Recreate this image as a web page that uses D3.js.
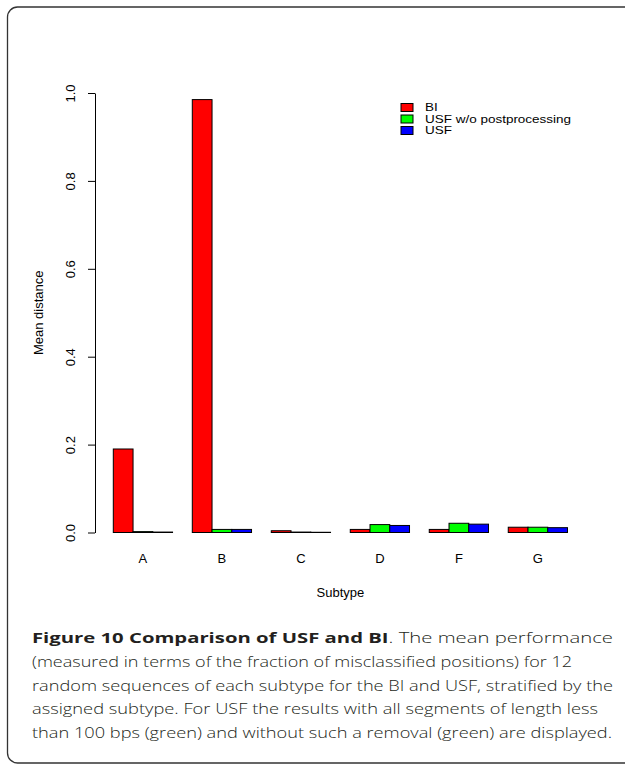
<!DOCTYPE html>
<html>
<head>
<meta charset="utf-8">
<script src="https://cdn.jsdelivr.net/npm/d3@7"></script>
<style>
  body { margin: 0; background: #fff; }
  svg { display: block; }
</style>
</head>
<body>
<svg id="chart" width="625" height="769"></svg>
<script>
// data
var subtypes = ["A", "B", "C", "D", "F", "G"];
var seriesNames = ["BI", "USF w/o postprocessing", "USF"];
var seriesColors = ["#ff0000", "#00ff00", "#0000ff"];
var biValues = [0.190, 0.985, 0.004, 0.007, 0.007, 0.012];
var usfRawValues = [0.002, 0.007, 0.001, 0.018, 0.021, 0.012];
var usfValues = [0.001, 0.007, 0.0005, 0.016, 0.019, 0.011];
var yTicks = [0, 0.2, 0.4, 0.6, 0.8, 1.0];
var captionBold = "Figure 10 Comparison of USF and BI";
var captionLines = [
  ". The mean performance",
  "(measured in terms of the fraction of misclassified positions) for 12",
  "random sequences of each subtype for the BI and USF, stratified by the",
  "assigned subtype. For USF the results with all segments of length less",
  "than 100 bps (green) and without such a removal (green) are displayed."
];

var svg = d3.select("#chart");
var font = "'Liberation Sans', Arial, Helvetica, sans-serif";

// frame round the figure
svg.append("rect")
  .attr("x", 7.5).attr("y", 7)
  .attr("width", 640).attr("height", 756)
  .attr("rx", 10).attr("ry", 10)
  .attr("fill", "none")
  .attr("stroke", "#333")
  .attr("stroke-width", 1.3);

var rows = subtypes.map(function (s, i) {
  return { key: s, values: [biValues[i], usfRawValues[i], usfValues[i]] };
});

var x = d3.scaleBand()
  .domain(subtypes)
  .range([113.3, 567.5])
  .paddingInner(0.25)
  .paddingOuter(0);

var xs = d3.scaleBand()
  .domain(d3.range(seriesNames.length))
  .range([0, x.bandwidth()]);

var y = d3.scaleLinear()
  .domain([0, 1])
  .range([532.5, 93]);

// bars
var groups = svg.append("g").selectAll("g")
  .data(rows)
  .enter().append("g")
  .attr("transform", function (d) { return "translate(" + x(d.key) + ",0)"; });

groups.selectAll("rect")
  .data(function (d) { return d.values; })
  .enter().append("rect")
  .attr("x", function (d, i) { return xs(i); })
  .attr("width", xs.bandwidth())
  .attr("y", function (d) { return y(d); })
  .attr("height", function (d) { return y(0) - y(d); })
  .attr("fill", function (d, i) { return seriesColors[i]; })
  .attr("stroke", "#000")
  .attr("stroke-width", 1);

// y axis, R style
var yAxis = svg.append("g")
  .attr("transform", "translate(95,0)")
  .call(d3.axisLeft(y).tickValues(yTicks).tickFormat(d3.format(".1f")).tickSize(7).tickSizeOuter(0));
yAxis.select(".domain").attr("stroke", "#000").attr("stroke-width", 1);
yAxis.selectAll(".tick line").attr("stroke", "#000");
yAxis.selectAll(".tick text")
  .attr("x", 0).attr("dy", 0)
  .attr("transform", "translate(-20,0) rotate(-90)")
  .attr("text-anchor", "middle")
  .attr("font-family", font)
  .attr("font-size", 13)
  .attr("fill", "#000");

// category labels
svg.append("g").selectAll("text")
  .data(subtypes)
  .enter().append("text")
  .attr("x", function (d) { return x(d) + x.bandwidth() / 2; })
  .attr("y", 563)
  .attr("text-anchor", "middle")
  .attr("font-family", font)
  .attr("font-size", 13)
  .text(function (d) { return d; });

// axis titles
svg.append("text")
  .attr("x", (x.range()[0] + x.range()[1]) / 2)
  .attr("y", 597)
  .attr("text-anchor", "middle")
  .attr("font-family", font)
  .attr("font-size", 13)
  .text("Subtype");

svg.append("text")
  .attr("transform", "translate(38," + y(0.5) + ") rotate(-90)")
  .attr("text-anchor", "middle")
  .attr("dy", "0.35em")
  .attr("font-family", font)
  .attr("font-size", 13)
  .text("Mean distance");

// legend (R draws it wide and tight, so stretch the text sideways)
var legend = svg.append("g").selectAll("g")
  .data(seriesNames)
  .enter().append("g")
  .attr("transform", function (d, i) { return "translate(401," + (107.5 + i * 11.5) + ")"; });
legend.append("rect")
  .attr("x", 0).attr("y", -4)
  .attr("width", 12).attr("height", 8)
  .attr("fill", function (d, i) { return seriesColors[i]; })
  .attr("stroke", "#000")
  .attr("stroke-width", 1);
legend.append("text")
  .attr("transform", "translate(24,0) scale(1.35,1)")
  .attr("dy", "0.35em")
  .attr("font-family", font)
  .attr("font-size", 10)
  .text(function (d) { return d; });

// caption
var capFont = "'Open Sans', 'Noto Sans', sans-serif";
var capEnds = [613, 572, 613, 598, 612];
var cap = svg.append("g")
  .attr("font-family", capFont)
  .attr("font-size", 15)
  .attr("fill", "#231f20");
captionLines.forEach(function (line, i) {
  var t = cap.append("text")
    .attr("x", 32)
    .attr("y", 643 + i * 23.8)
    .attr("textLength", capEnds[i] - 32)
    .attr("lengthAdjust", "spacingAndGlyphs");
  if (i === 0) {
    t.append("tspan").attr("font-weight", "bold").text(captionBold);
  }
  t.append("tspan").attr("font-weight", "300").text(line);
});
</script>
</body>
</html>
